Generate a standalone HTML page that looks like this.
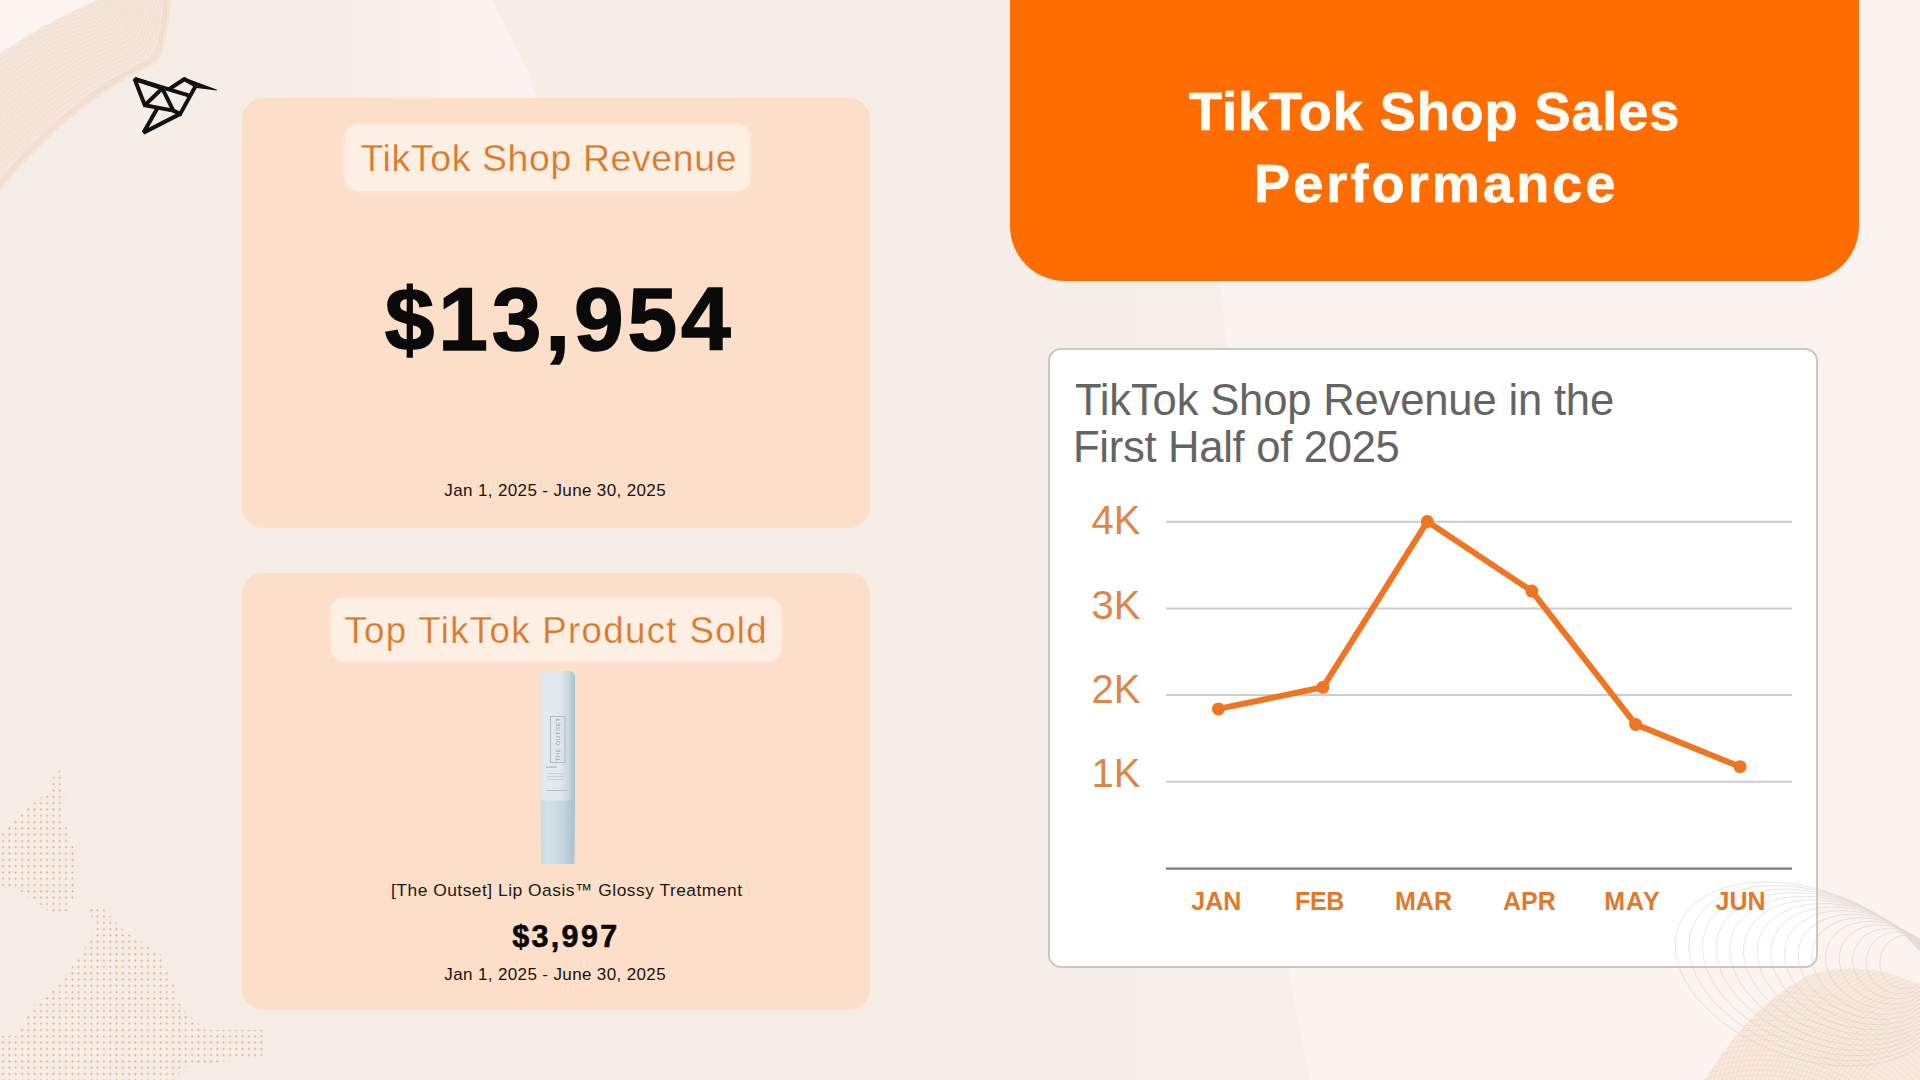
<!DOCTYPE html>
<html>
<head>
<meta charset="utf-8">
<style>
html,body{margin:0;padding:0;}
body{width:1920px;height:1080px;position:relative;overflow:hidden;background:#F6EDE6;font-family:"Liberation Sans",sans-serif;}
.a{position:absolute;line-height:1;white-space:nowrap;}
.card{position:absolute;left:242px;width:628px;background:#FDDEC9;border-radius:21px;}
.pill{position:absolute;background:#FEEFE4;border-radius:13px;box-shadow:0 0 3px 1px rgba(255,242,234,0.55);}
.ttl{color:#D97A2B;font-weight:400;-webkit-text-stroke:0.25px #FEEFE4;}
.date{font-size:17px;letter-spacing:0.37px;color:#1a120d;}
.yl{font-size:40px;color:#DD8649;}
.xl{font-size:25px;font-weight:700;color:#E07A2E;}
</style>
</head>
<body>
<!-- background decorations -->
<svg class="a" style="left:0;top:0" width="1920" height="1080" viewBox="0 0 1920 1080">
<defs>
  <linearGradient id="bgR" x1="0" x2="1" y1="0" y2="0">
    <stop offset="0" stop-color="#fff" stop-opacity="0"/>
    <stop offset="0.45" stop-color="#fff" stop-opacity="0.08"/>
    <stop offset="1" stop-color="#fff" stop-opacity="0.5"/>
  </linearGradient>
  <linearGradient id="patchG" gradientUnits="userSpaceOnUse" x1="330" y1="0" x2="480" y2="0">
    <stop offset="0" stop-color="#FAF3F0" stop-opacity="0"/>
    <stop offset="1" stop-color="#FAF3F0" stop-opacity="0.85"/>
  </linearGradient>
  <pattern id="dots" width="6.3" height="6.3" patternUnits="userSpaceOnUse">
    <circle cx="3.1" cy="3.1" r="1.0" fill="#E4A47C"/>
  </pattern>
  <clipPath id="dotclip">
    <path d="M58,760 L66,800 L62,815 L78,862 L78,888 L66,912 L50,912 L19,890 L0,885 L0,835 L19,814 L50,790 Z"/>
    <path d="M88,905 L100,905 L118,925 L130,935 L160,954 L172,980 L182,1008 L205,1030 L266,1030 L266,1055 L180,1068 L178,1080 L0,1080 L0,1036 L16,1036 L32,1008 L63,979 L82,954 L95,930 Z"/>
  </clipPath>
</defs>
<rect width="1920" height="1080" fill="url(#bgR)" opacity="0.25"/>
<path d="M1180,0 L1200,150 L1215,260 L1222,300 L1226,345 L1250,600 L1288,968 L1296,1010 L1302,1040 L1310,1080 L1920,1080 L1920,0 Z" fill="#FAF3EF"/>
<path d="M-5,-5 L110,-5 Q45,22 -5,58 Z" fill="#FBF4F1"/>
<path d="M320,0 L492,0 L505,25 L515,45 L528,70 L537,98 L320,98 Z" fill="url(#patchG)"/>
<path d="M-5.0,58.0 L-2.5,56.2 L0.0,54.4 L2.6,52.7 L5.1,50.9 L7.7,49.2 L10.2,47.4 L12.8,45.7 L15.4,44.0 L18.1,42.4 L20.7,40.7 L23.3,39.0 L26.0,37.4 L28.7,35.8 L31.3,34.1 L34.0,32.5 L36.8,31.0 L39.5,29.4 L42.2,27.8 L45.0,26.3 L47.8,24.8 L50.5,23.2 L53.3,21.7 L56.1,20.2 L59.0,18.8 L61.8,17.3 L64.6,15.8 L67.5,14.4 L70.4,13.0 L73.3,11.6 L76.2,10.2 L79.1,8.8 L82.0,7.4 L85.0,6.1 L87.9,4.7 L90.9,3.4 L93.9,2.1 L96.9,0.8 L99.9,-0.5 L103.0,-1.7 L106.0,-3.0 L168.0,-3.0 L167.5,2.0 L166.9,7.1 L166.3,12.2 L165.7,17.3 L165.1,22.3 L164.4,27.2 L163.6,31.9 L162.7,36.5 L161.8,40.8 L160.7,44.9 L159.6,48.7 L158.3,52.2 L156.9,55.3 L155.3,58.0 L153.6,60.2 L151.7,62.0 L149.2,63.3 L145.4,65.1 L141.6,67.0 L137.8,68.9 L134.0,70.9 L130.2,73.0 L126.3,75.1 L122.5,77.3 L118.7,79.5 L115.0,81.8 L111.2,84.2 L107.4,86.7 L103.6,89.2 L99.9,91.7 L96.1,94.4 L92.4,97.0 L88.7,99.8 L84.9,102.6 L81.2,105.4 L77.5,108.3 L73.9,111.3 L70.2,114.3 L66.6,117.3 L62.9,120.5 L59.3,123.6 L55.7,126.8 L52.2,130.1 L48.6,133.4 L45.1,136.7 L41.6,140.1 L38.1,143.6 L34.6,147.1 L31.2,150.6 L27.7,154.2 L24.3,157.8 L21.0,161.4 L17.6,165.1 L14.3,168.9 L11.0,172.6 L7.7,176.4 L4.5,180.3 L1.3,184.1 L-1.9,188.1 L-5.0,192.0 Z" fill="#F2D3BE" opacity="0.25"/>
<path d="M-5.0,192.0 L-1.9,188.1 L1.3,184.1 L4.5,180.3 L7.7,176.4 L11.0,172.6 L14.3,168.9 L17.6,165.1 L21.0,161.4 L24.3,157.8 L27.7,154.2 L31.2,150.6 L34.6,147.1 L38.1,143.6 L41.6,140.1 L45.1,136.7 L48.6,133.4 L52.2,130.1 L55.7,126.8 L59.3,123.6 L62.9,120.5 L66.6,117.3 L70.2,114.3 L73.9,111.3 L77.5,108.3 L81.2,105.4 L84.9,102.6 L88.7,99.8 L92.4,97.0 L96.1,94.4 L99.9,91.7 L103.6,89.2 L107.4,86.7 L111.2,84.2 L115.0,81.8 L118.7,79.5 L122.5,77.3 L126.3,75.1 L130.2,73.0 L134.0,70.9 L137.8,68.9 L141.6,67.0 L145.4,65.1 L149.2,63.3 L151.7,62.0 L153.6,60.2 L155.3,58.0 L156.9,55.3 L158.3,52.2 L159.6,48.7 L160.7,44.9 L161.8,40.8 L162.7,36.5 L163.6,31.9 L164.4,27.2 L165.1,22.3 L165.7,17.3 L166.3,12.2 L166.9,7.1 L167.5,2.0 L168.0,-3.0" fill="none" stroke="#F0C9AC" stroke-width="7" opacity="0.25"/>
<g stroke="#E8B08E" stroke-width="0.5" fill="none" opacity="0.32">
<path d="M-5.0,58.0 L-2.9,57.3 L-1.1,56.2 L0.3,54.7 L1.5,53.0 L2.8,51.5 L4.6,50.4 L6.7,49.6 L8.9,49.0 L10.8,48.0 L12.4,46.7 L13.6,45.1 L14.9,43.5 L16.6,42.4 L18.7,41.6 L21.0,41.0 L23.0,40.2 L24.7,38.9 L26.0,37.4 L27.3,35.8 L29.0,34.6 L31.0,33.8 L33.4,33.3 L35.5,32.6 L37.3,31.5 L38.7,30.0 L40.0,28.5 L41.6,27.2 L43.7,26.4 L46.0,25.9 L48.3,25.3 L50.2,24.3 L51.7,22.9 L53.0,21.4 L54.6,20.1 L56.6,19.3 L59.0,18.8 L61.3,18.2 L63.3,17.4 L64.9,16.1 L66.4,14.7 L67.9,13.4 L69.9,12.5 L72.2,11.9 L74.6,11.5 L76.8,10.8 L78.5,9.7 L80.0,8.2 L81.5,6.9 L83.4,6.0 L85.8,5.4 L88.2,5.0 L90.5,4.5 L92.4,3.4 L93.9,2.1 L95.5,0.8 L97.3,-0.2 L99.6,-0.8 L102.2,-1.1 L104.5,-1.6 L106.5,-2.5"/>
<path d="M-4.4,64.7 L-2.8,63.3 L-1.5,61.5 L-0.2,59.7 L1.4,58.3 L3.4,57.2 L5.7,56.4 L7.8,55.5 L9.6,54.3 L11.0,52.6 L12.3,50.9 L13.9,49.4 L15.9,48.3 L18.2,47.5 L20.4,46.8 L22.4,45.6 L23.9,44.1 L25.2,42.4 L26.8,40.9 L28.7,39.8 L31.0,39.0 L33.4,38.3 L35.4,37.4 L37.1,36.0 L38.5,34.3 L40.0,32.8 L41.9,31.7 L44.2,30.9 L46.6,30.3 L48.8,29.5 L50.5,28.2 L52.0,26.7 L53.5,25.1 L55.4,24.0 L57.7,23.3 L60.1,22.7 L62.4,22.0 L64.3,20.9 L65.9,19.4 L67.4,17.9 L69.2,16.7 L71.4,16.0 L74.0,15.5 L76.4,14.9 L78.3,14.0 L79.9,12.6 L81.3,11.1 L83.0,9.9 L85.1,9.0 L87.5,8.5 L89.9,7.9 L91.9,7.0 L93.5,5.6 L94.9,4.0 L96.5,2.7 L98.6,1.7 L100.9,1.1 L103.4,0.5 L105.5,-0.3 L107.2,-1.6 L108.7,-3.2"/>
<path d="M-4.7,70.5 L-3.4,68.5 L-1.9,66.7 L-0.1,65.3 L2.1,64.3 L4.5,63.4 L6.5,62.2 L8.2,60.6 L9.6,58.8 L11.0,57.0 L12.8,55.5 L15.1,54.5 L17.5,53.7 L19.7,52.7 L21.5,51.2 L22.9,49.4 L24.4,47.7 L26.2,46.2 L28.4,45.2 L30.8,44.4 L33.2,43.5 L35.1,42.2 L36.6,40.6 L38.1,38.8 L39.9,37.4 L42.1,36.4 L44.5,35.7 L47.0,34.9 L49.0,33.7 L50.7,32.2 L52.2,30.5 L53.9,29.1 L56.1,28.1 L58.6,27.4 L61.1,26.7 L63.3,25.8 L65.0,24.4 L66.6,22.8 L68.3,21.4 L70.4,20.3 L72.9,19.7 L75.5,19.1 L77.8,18.3 L79.7,17.1 L81.2,15.6 L82.7,14.2 L84.6,13.1 L86.8,12.4 L89.3,11.8 L91.5,11.0 L93.2,9.7 L94.7,8.0 L96.1,6.4 L97.8,5.0 L100.0,4.1 L102.4,3.3 L104.6,2.5 L106.5,1.2 L108.0,-0.4 L109.4,-2.2 L111.0,-3.6"/>
<path d="M-5.4,75.9 L-3.7,74.1 L-1.6,72.8 L0.8,71.7 L3.1,70.6 L5.0,69.1 L6.5,67.2 L8.0,65.2 L9.6,63.4 L11.7,62.1 L14.2,61.1 L16.6,60.0 L18.6,58.7 L20.3,56.9 L21.8,55.0 L23.4,53.2 L25.5,51.9 L28.0,50.9 L30.5,50.0 L32.7,48.8 L34.5,47.2 L36.0,45.4 L37.7,43.6 L39.7,42.3 L42.2,41.3 L44.7,40.5 L47.1,39.5 L49.0,38.1 L50.6,36.3 L52.3,34.6 L54.3,33.3 L56.7,32.4 L59.3,31.7 L61.8,30.8 L63.8,29.6 L65.6,28.0 L67.2,26.3 L69.2,25.0 L71.6,24.1 L74.2,23.5 L76.8,22.8 L79.0,21.7 L80.8,20.3 L82.5,18.7 L84.2,17.5 L86.3,16.6 L88.7,15.9 L91.0,15.2 L93.0,14.1 L94.6,12.6 L95.9,10.8 L97.4,9.1 L99.4,7.8 L101.6,6.9 L103.9,5.9 L105.9,4.7 L107.5,3.0 L108.8,1.1 L110.3,-0.7 L112.1,-2.1 L114.3,-3.2"/>
<path d="M-5.5,81.8 L-3.2,80.5 L-0.7,79.4 L1.4,77.9 L3.2,76.0 L4.7,73.9 L6.3,71.8 L8.2,70.2 L10.6,68.9 L13.1,67.8 L15.4,66.5 L17.3,64.8 L18.9,62.8 L20.5,60.8 L22.5,59.1 L24.8,57.8 L27.4,56.8 L29.9,55.7 L31.9,54.2 L33.6,52.3 L35.3,50.4 L37.2,48.7 L39.5,47.4 L42.1,46.5 L44.7,45.5 L46.9,44.2 L48.7,42.5 L50.4,40.6 L52.3,39.0 L54.6,37.8 L57.2,36.9 L59.9,36.1 L62.2,34.9 L64.2,33.4 L65.9,31.7 L67.7,30.1 L70.0,28.9 L72.6,28.1 L75.4,27.4 L77.9,26.5 L79.9,25.1 L81.7,23.5 L83.5,22.0 L85.7,20.8 L88.1,20.1 L90.5,19.6 L92.7,18.7 L94.5,17.4 L95.9,15.6 L97.3,13.8 L99.0,12.2 L101.1,11.0 L103.4,10.0 L105.5,8.8 L107.3,7.2 L108.6,5.2 L109.9,3.1 L111.4,1.2 L113.4,-0.2 L115.6,-1.3 L117.8,-2.5"/>
<path d="M-4.9,88.6 L-2.5,87.2 L-0.4,85.4 L1.2,83.2 L2.8,80.9 L4.5,78.9 L6.8,77.3 L9.3,76.0 L11.8,74.7 L14.0,73.1 L15.8,71.1 L17.4,68.9 L19.2,66.9 L21.4,65.3 L24.0,64.1 L26.6,62.9 L29.0,61.5 L30.9,59.7 L32.6,57.6 L34.4,55.6 L36.6,54.0 L39.2,52.9 L41.9,51.9 L44.4,50.6 L46.5,49.0 L48.2,47.0 L50.0,45.1 L52.2,43.6 L54.8,42.5 L57.5,41.6 L60.2,40.5 L62.4,39.1 L64.3,37.3 L66.1,35.5 L68.2,34.0 L70.7,33.0 L73.5,32.2 L76.3,31.3 L78.6,30.1 L80.6,28.5 L82.4,26.8 L84.5,25.4 L87.0,24.4 L89.8,23.7 L92.3,23.1 L94.4,22.1 L95.9,20.6 L97.3,18.8 L98.8,17.0 L100.7,15.6 L102.9,14.5 L105.1,13.4 L107.1,11.9 L108.6,9.9 L109.8,7.7 L111.1,5.5 L112.8,3.7 L114.8,2.2 L117.0,0.9 L119.0,-0.6 L120.5,-2.6"/>
<path d="M-4.4,95.1 L-2.5,93.0 L-0.9,90.6 L0.7,88.2 L2.8,86.3 L5.2,84.7 L7.9,83.3 L10.3,81.8 L12.4,79.9 L14.1,77.6 L15.8,75.3 L17.9,73.3 L20.3,71.8 L23.1,70.5 L25.7,69.2 L27.9,67.4 L29.7,65.3 L31.5,63.1 L33.5,61.2 L36.0,59.7 L38.7,58.5 L41.5,57.3 L43.8,55.8 L45.8,53.9 L47.6,51.8 L49.6,49.9 L52.1,48.5 L54.9,47.4 L57.7,46.4 L60.2,45.1 L62.3,43.3 L64.2,41.4 L66.2,39.6 L68.6,38.2 L71.4,37.3 L74.3,36.4 L76.9,35.3 L79.1,33.8 L81.1,32.1 L83.1,30.4 L85.4,29.0 L88.2,28.2 L91.1,27.5 L93.9,26.6 L95.8,25.5 L97.3,23.9 L98.7,22.1 L100.4,20.6 L102.5,19.3 L104.8,18.2 L106.9,16.9 L108.6,15.1 L109.9,12.9 L111.1,10.5 L112.5,8.3 L114.4,6.6 L116.5,5.1 L118.5,3.5 L120.2,1.6 L121.5,-0.8 L122.6,-3.3"/>
<path d="M-4.8,100.8 L-3.2,98.3 L-1.3,95.9 L1.0,94.0 L3.6,92.5 L6.3,90.9 L8.6,89.0 L10.5,86.7 L12.3,84.3 L14.2,82.0 L16.5,80.1 L19.2,78.6 L21.9,77.2 L24.4,75.5 L26.5,73.5 L28.3,71.1 L30.2,68.9 L32.5,67.1 L35.3,65.7 L38.1,64.4 L40.8,62.9 L43.0,61.1 L44.9,58.9 L46.9,56.8 L49.1,55.0 L51.9,53.6 L54.8,52.5 L57.6,51.3 L59.9,49.7 L62.0,47.7 L63.9,45.7 L66.2,44.0 L68.9,42.7 L71.9,41.7 L74.7,40.7 L77.3,39.3 L79.4,37.6 L81.4,35.7 L83.6,34.1 L86.3,32.9 L89.2,32.1 L92.2,31.3 L94.9,30.2 L97.1,28.7 L98.7,27.1 L100.2,25.5 L102.2,24.3 L104.4,23.2 L106.7,22.1 L108.7,20.6 L110.1,18.5 L111.3,16.1 L112.6,13.7 L114.2,11.6 L116.1,9.9 L118.2,8.2 L120.1,6.4 L121.5,4.0 L122.6,1.3 L123.7,-1.3 L125.1,-3.6"/>
<path d="M-5.5,106.2 L-3.4,104.0 L-0.8,102.1 L1.9,100.5 L4.5,98.6 L6.7,96.4 L8.5,93.8 L10.3,91.3 L12.5,89.0 L15.0,87.2 L17.9,85.7 L20.6,84.1 L22.9,82.0 L24.9,79.7 L26.8,77.2 L29.0,75.0 L31.5,73.3 L34.4,71.9 L37.3,70.4 L39.8,68.6 L41.9,66.5 L43.9,64.1 L46.0,62.0 L48.6,60.4 L51.5,59.0 L54.5,57.8 L57.2,56.3 L59.4,54.3 L61.5,52.2 L63.6,50.2 L66.2,48.6 L69.1,47.4 L72.2,46.3 L75.0,45.1 L77.3,43.4 L79.4,41.4 L81.6,39.5 L84.1,38.0 L87.0,37.0 L90.1,36.1 L93.0,35.1 L95.5,33.7 L97.7,32.0 L99.9,30.3 L101.8,29.0 L104.0,28.0 L106.4,27.1 L108.6,26.0 L110.3,24.3 L111.6,22.0 L112.8,19.6 L114.2,17.3 L116.0,15.3 L118.0,13.6 L120.0,11.7 L121.6,9.5 L122.8,6.8 L123.8,3.9 L125.0,1.2 L126.6,-1.1 L128.5,-3.0"/>
<path d="M-5.5,112.4 L-2.7,110.5 L0.0,108.7 L2.5,106.5 L4.5,103.9 L6.3,101.2 L8.3,98.6 L10.7,96.4 L13.5,94.7 L16.4,93.0 L19.0,91.0 L21.2,88.7 L23.2,86.1 L25.2,83.6 L27.6,81.5 L30.5,79.8 L33.5,78.3 L36.2,76.5 L38.6,74.4 L40.7,72.0 L42.7,69.6 L45.2,67.6 L48.0,66.0 L51.1,64.6 L54.0,63.2 L56.5,61.3 L58.7,59.1 L60.8,56.9 L63.2,54.9 L66.1,53.4 L69.2,52.3 L72.2,51.0 L74.9,49.4 L77.2,47.5 L79.3,45.4 L81.7,43.6 L84.5,42.2 L87.6,41.2 L90.8,40.2 L93.6,39.0 L96.0,37.3 L98.2,35.4 L100.5,33.8 L103.3,32.5 L105.8,31.8 L108.2,31.0 L110.3,29.8 L111.9,27.9 L113.1,25.6 L114.4,23.3 L116.0,21.1 L118.0,19.3 L120.0,17.5 L121.8,15.4 L123.2,12.8 L124.2,9.8 L125.2,6.8 L126.5,4.1 L128.2,1.8 L130.2,-0.2 L131.9,-2.4"/>
<path d="M-4.7,119.2 L-2.1,117.0 L0.2,114.5 L2.1,111.7 L4.0,108.8 L6.3,106.3 L8.9,104.2 L11.9,102.3 L14.7,100.4 L17.2,98.1 L19.3,95.5 L21.3,92.8 L23.6,90.3 L26.3,88.2 L29.3,86.6 L32.3,84.8 L34.9,82.8 L37.2,80.4 L39.3,77.8 L41.5,75.4 L44.2,73.5 L47.3,71.9 L50.4,70.4 L53.2,68.6 L55.6,66.5 L57.8,64.1 L60.1,61.8 L62.8,60.0 L65.9,58.6 L69.1,57.3 L72.0,55.8 L74.6,53.9 L76.8,51.7 L79.1,49.6 L81.8,47.9 L84.9,46.7 L88.1,45.6 L91.2,44.4 L93.9,42.8 L96.2,40.9 L98.5,39.0 L101.1,37.5 L104.1,36.3 L107.4,35.5 L110.0,34.8 L111.9,33.5 L113.4,31.6 L114.6,29.3 L116.1,27.2 L117.9,25.3 L120.0,23.5 L122.0,21.6 L123.6,19.3 L124.8,16.4 L125.7,13.2 L126.8,10.2 L128.3,7.6 L130.1,5.2 L131.9,2.9 L133.4,0.3 L134.5,-2.7"/>
<path d="M-4.4,125.6 L-2.3,122.7 L-0.4,119.7 L1.7,116.8 L4.2,114.3 L7.1,112.2 L10.1,110.3 L12.8,108.0 L15.1,105.4 L17.2,102.5 L19.3,99.7 L21.9,97.3 L24.8,95.3 L27.9,93.5 L30.8,91.6 L33.3,89.2 L35.5,86.5 L37.7,83.8 L40.3,81.5 L43.2,79.7 L46.4,78.0 L49.5,76.3 L52.2,74.2 L54.5,71.8 L56.8,69.3 L59.3,67.1 L62.3,65.3 L65.5,63.9 L68.7,62.4 L71.6,60.6 L74.0,58.5 L76.3,56.2 L78.8,54.1 L81.8,52.5 L85.1,51.3 L88.4,50.1 L91.3,48.6 L93.9,46.7 L96.3,44.7 L98.7,42.8 L101.6,41.4 L104.9,40.4 L108.3,39.4 L111.4,38.3 L113.3,36.9 L114.8,35.1 L116.2,33.1 L117.9,31.3 L120.0,29.6 L122.1,27.9 L123.9,25.9 L125.3,23.3 L126.3,20.2 L127.3,17.0 L128.6,14.0 L130.2,11.5 L132.0,9.0 L133.7,6.4 L135.0,3.4 L135.8,0.0 L136.6,-3.4"/>
<path d="M-4.9,131.2 L-2.9,128.0 L-0.6,125.1 L2.1,122.7 L5.1,120.6 L8.1,118.4 L10.7,115.8 L12.9,112.9 L15.0,109.8 L17.3,107.0 L20.1,104.7 L23.3,102.7 L26.4,100.7 L29.2,98.4 L31.5,95.7 L33.7,92.8 L36.1,90.2 L39.0,87.9 L42.1,86.1 L45.4,84.3 L48.4,82.3 L50.9,79.9 L53.2,77.2 L55.6,74.7 L58.5,72.6 L61.7,70.9 L65.0,69.4 L68.1,67.7 L70.9,65.5 L73.3,63.1 L75.7,60.8 L78.5,58.8 L81.7,57.3 L85.1,56.1 L88.4,54.6 L91.2,52.9 L93.7,50.7 L96.2,48.6 L98.9,46.8 L102.1,45.5 L105.5,44.5 L108.9,43.4 L111.9,42.0 L114.4,40.2 L116.1,38.5 L117.8,36.9 L119.8,35.4 L122.0,34.0 L124.1,32.3 L125.8,30.1 L127.0,27.3 L128.0,24.2 L129.1,21.1 L130.5,18.3 L132.3,15.7 L134.1,13.1 L135.5,10.2 L136.5,6.8 L137.2,3.1 L138.1,-0.4 L139.3,-3.5"/>
<path d="M-5.6,136.6 L-3.0,133.8 L-0.0,131.4 L3.1,129.2 L5.9,126.6 L8.3,123.7 L10.5,120.5 L12.7,117.4 L15.3,114.7 L18.4,112.4 L21.6,110.3 L24.6,108.1 L27.2,105.4 L29.5,102.4 L31.9,99.5 L34.5,96.9 L37.6,94.7 L40.9,92.8 L44.1,90.8 L46.9,88.4 L49.4,85.7 L51.8,82.9 L54.4,80.5 L57.5,78.5 L60.9,76.8 L64.3,75.0 L67.3,73.0 L69.9,70.6 L72.3,68.0 L75.0,65.7 L78.1,63.9 L81.5,62.4 L85.0,61.0 L88.1,59.3 L90.8,57.2 L93.3,54.9 L96.0,52.8 L99.0,51.1 L102.5,49.9 L106.0,48.8 L109.2,47.4 L112.1,45.7 L114.6,43.7 L117.3,41.9 L119.4,40.6 L121.7,39.5 L124.0,38.3 L126.0,36.7 L127.6,34.4 L128.7,31.5 L129.7,28.4 L131.0,25.5 L132.6,22.8 L134.5,20.3 L136.1,17.5 L137.3,14.2 L138.1,10.5 L138.8,6.7 L139.7,3.1 L141.1,-0.1 L142.7,-2.9"/>
<path d="M-5.4,142.9 L-2.3,140.5 L0.8,137.9 L3.4,135.1 L5.7,131.8 L7.9,128.5 L10.4,125.4 L13.3,122.7 L16.5,120.4 L19.7,118.1 L22.6,115.5 L25.1,112.5 L27.4,109.4 L29.9,106.4 L32.8,103.9 L36.1,101.7 L39.5,99.7 L42.6,97.4 L45.3,94.7 L47.7,91.7 L50.3,88.9 L53.2,86.5 L56.6,84.6 L60.0,82.8 L63.3,80.8 L66.2,78.4 L68.7,75.7 L71.3,73.1 L74.2,70.9 L77.6,69.1 L81.1,67.6 L84.6,66.0 L87.6,63.9 L90.2,61.6 L92.8,59.2 L95.7,57.2 L99.1,55.6 L102.7,54.4 L106.2,53.1 L109.3,51.4 L112.1,49.4 L114.7,47.4 L117.5,45.6 L120.8,44.3 L123.5,43.5 L125.9,42.5 L127.8,40.8 L129.2,38.5 L130.3,35.7 L131.5,32.8 L133.1,30.1 L134.9,27.6 L136.7,25.0 L138.1,22.0 L139.1,18.4 L139.8,14.5 L140.5,10.6 L141.6,7.0 L143.1,3.9 L144.7,0.8 L146.0,-2.4"/>
<path d="M-4.6,149.7 L-1.7,146.9 L0.8,143.7 L3.0,140.2 L5.3,136.7 L8.0,133.7 L11.1,131.1 L14.5,128.7 L17.6,126.1 L20.3,123.2 L22.7,119.9 L25.2,116.6 L27.9,113.7 L31.1,111.2 L34.5,109.0 L37.9,106.7 L40.8,104.1 L43.4,101.1 L45.9,98.0 L48.7,95.2 L51.9,92.9 L55.4,90.9 L58.9,88.9 L62.1,86.6 L64.8,83.9 L67.4,81.1 L70.2,78.5 L73.4,76.4 L77.0,74.7 L80.6,73.0 L83.9,71.0 L86.8,68.7 L89.4,66.1 L92.2,63.8 L95.4,61.9 L99.0,60.4 L102.7,59.0 L106.1,57.5 L109.1,55.5 L111.8,53.3 L114.6,51.2 L117.8,49.5 L121.3,48.3 L125.0,47.3 L127.6,46.4 L129.4,44.8 L130.8,42.5 L132.0,39.9 L133.4,37.4 L135.2,35.0 L137.1,32.6 L138.9,29.9 L140.1,26.6 L140.9,22.8 L141.6,18.8 L142.5,15.0 L143.7,11.5 L145.3,8.3 L146.7,4.9 L147.8,1.3 L148.5,-2.8"/>
<path d="M-4.4,156.0 L-2.1,152.4 L0.2,148.8 L2.7,145.4 L5.7,142.4 L9.0,139.8 L12.3,137.2 L15.3,134.3 L17.9,130.9 L20.3,127.5 L22.9,124.2 L25.9,121.3 L29.3,118.9 L32.8,116.5 L36.0,113.9 L38.8,110.9 L41.4,107.7 L44.0,104.6 L47.1,101.9 L50.5,99.6 L54.1,97.5 L57.6,95.2 L60.5,92.6 L63.2,89.6 L66.0,86.7 L69.0,84.2 L72.5,82.2 L76.2,80.4 L79.8,78.5 L82.9,76.2 L85.7,73.6 L88.5,70.9 L91.5,68.6 L95.0,66.8 L98.8,65.3 L102.5,63.8 L105.8,61.9 L108.7,59.6 L111.5,57.3 L114.5,55.3 L117.9,53.7 L121.7,52.5 L125.4,51.4 L128.8,49.9 L130.8,48.4 L132.2,46.3 L133.7,44.1 L135.4,42.0 L137.4,39.9 L139.4,37.6 L141.0,34.8 L142.0,31.4 L142.8,27.5 L143.5,23.5 L144.6,19.8 L146.0,16.3 L147.6,13.0 L148.8,9.3 L149.6,5.3 L150.1,0.9 L150.6,-3.5"/>
<path d="M-5.1,161.5 L-2.7,157.7 L0.1,154.4 L3.3,151.4 L6.6,148.7 L9.9,145.8 L12.7,142.5 L15.2,138.9 L17.7,135.4 L20.5,132.1 L23.8,129.3 L27.4,126.8 L30.8,124.2 L33.9,121.2 L36.6,117.9 L39.2,114.6 L42.1,111.5 L45.4,108.9 L49.0,106.6 L52.7,104.3 L55.9,101.7 L58.8,98.7 L61.5,95.6 L64.4,92.7 L67.8,90.3 L71.5,88.2 L75.2,86.2 L78.7,84.0 L81.7,81.4 L84.5,78.6 L87.5,76.0 L90.8,73.8 L94.5,72.0 L98.4,70.4 L102.0,68.6 L105.1,66.4 L108.0,63.9 L111.0,61.6 L114.3,59.6 L118.0,58.1 L121.9,56.9 L125.6,55.5 L128.8,53.8 L131.8,51.7 L133.6,50.0 L135.4,48.2 L137.4,46.6 L139.6,44.8 L141.5,42.6 L142.9,39.7 L143.9,36.1 L144.7,32.3 L145.6,28.5 L146.9,24.9 L148.4,21.5 L149.9,18.0 L150.9,14.0 L151.5,9.6 L151.9,4.9 L152.4,0.5 L153.4,-3.5"/>
<path d="M-5.6,167.0 L-2.6,163.7 L0.8,160.8 L4.2,157.9 L7.2,154.6 L9.9,151.0 L12.4,147.2 L15.1,143.6 L18.2,140.4 L21.7,137.6 L25.3,135.0 L28.6,132.0 L31.5,128.7 L34.2,125.2 L36.9,121.7 L40.1,118.7 L43.7,116.1 L47.4,113.7 L50.9,111.2 L54.0,108.2 L56.9,104.9 L59.7,101.8 L62.9,98.9 L66.5,96.6 L70.3,94.5 L74.0,92.3 L77.4,89.7 L80.3,86.8 L83.2,83.9 L86.4,81.3 L90.0,79.2 L93.9,77.4 L97.7,75.6 L101.2,73.4 L104.3,70.9 L107.2,68.4 L110.4,66.0 L114.0,64.2 L117.9,62.8 L121.8,61.4 L125.4,59.7 L128.6,57.6 L131.6,55.4 L134.7,53.5 L137.1,52.2 L139.4,51.0 L141.7,49.5 L143.5,47.4 L144.8,44.4 L145.7,40.9 L146.6,37.3 L147.8,33.7 L149.3,30.4 L150.9,27.0 L152.2,23.2 L153.0,18.9 L153.4,14.2 L153.8,9.4 L154.5,5.0 L155.6,1.0 L156.9,-2.8"/>
<path d="M-5.3,173.5 L-1.8,170.4 L1.5,167.2 L4.4,163.6 L7.0,159.7 L9.5,155.8 L12.5,152.2 L15.8,149.1 L19.4,146.2 L23.0,143.3 L26.1,140.0 L28.9,136.4 L31.6,132.7 L34.6,129.3 L38.1,126.3 L41.8,123.7 L45.5,121.1 L48.9,118.2 L51.9,114.9 L54.8,111.5 L57.8,108.3 L61.3,105.5 L65.1,103.2 L69.0,100.9 L72.6,98.4 L75.8,95.5 L78.7,92.4 L81.8,89.4 L85.2,86.9 L89.1,84.9 L93.1,82.9 L96.9,80.8 L100.2,78.4 L103.2,75.7 L106.3,73.0 L109.8,70.8 L113.6,69.0 L117.7,67.5 L121.5,65.9 L125.0,63.9 L128.1,61.6 L131.2,59.3 L134.6,57.4 L138.4,56.0 L141.3,55.2 L143.6,53.9 L145.3,51.9 L146.5,49.0 L147.5,45.7 L148.7,42.4 L150.1,39.1 L151.8,36.0 L153.3,32.5 L154.4,28.5 L155.0,24.0 L155.4,19.1 L155.9,14.4 L156.8,10.0 L158.0,5.9 L159.2,1.9 L160.1,-2.4"/>
<path d="M-4.5,180.3 L-1.4,176.7 L1.3,172.8 L3.9,168.6 L6.6,164.7 L9.8,161.1 L13.4,158.0 L17.0,155.0 L20.4,151.8 L23.4,148.1 L26.2,144.3 L29.1,140.5 L32.3,137.1 L36.0,134.2 L39.8,131.5 L43.4,128.6 L46.7,125.3 L49.6,121.8 L52.6,118.2 L55.9,115.1 L59.6,112.4 L63.6,110.0 L67.4,107.5 L70.9,104.6 L73.9,101.4 L77.0,98.2 L80.3,95.3 L84.0,92.8 L88.1,90.8 L92.1,88.6 L95.7,86.2 L98.9,83.4 L102.0,80.6 L105.3,78.0 L109.1,75.8 L113.1,74.1 L117.2,72.4 L121.0,70.5 L124.3,68.2 L127.5,65.7 L130.7,63.4 L134.4,61.6 L138.5,60.3 L142.6,59.1 L145.2,57.9 L146.9,56.1 L148.2,53.4 L149.4,50.5 L150.8,47.6 L152.5,44.7 L154.2,41.7 L155.7,38.1 L156.6,34.0 L157.1,29.3 L157.5,24.4 L158.2,19.8 L159.3,15.4 L160.5,11.3 L161.6,6.9 L162.2,2.2 L162.5,-2.9"/>
<path d="M-4.5,186.4 L-1.9,182.2 L0.8,177.9 L3.7,174.0 L7.1,170.5 L10.8,167.3 L14.4,164.0 L17.7,160.4 L20.6,156.5 L23.4,152.4 L26.4,148.7 L29.9,145.4 L33.8,142.4 L37.6,139.5 L41.1,136.3 L44.2,132.6 L47.2,128.9 L50.3,125.3 L53.9,122.3 L57.8,119.6 L61.8,117.0 L65.6,114.2 L68.9,110.9 L72.0,107.5 L75.2,104.3 L78.7,101.4 L82.7,99.1 L86.9,96.8 L90.8,94.4 L94.3,91.7 L97.5,88.6 L100.7,85.7 L104.3,83.2 L108.3,81.1 L112.5,79.3 L116.5,77.4 L120.2,75.1 L123.4,72.5 L126.7,70.0 L130.2,67.8 L134.2,66.1 L138.4,64.7 L142.5,63.3 L146.3,61.6 L148.3,59.8 L149.7,57.6 L151.2,55.2 L152.9,52.7 L154.9,50.2 L156.6,47.3 L157.9,43.7 L158.7,39.5 L159.2,34.8 L159.8,30.0 L160.7,25.5 L161.9,21.3 L163.1,16.9 L163.9,12.2 L164.3,7.1 L164.4,1.7 L164.6,-3.5"/>
<path d="M-5.2,191.8 L-2.4,187.5 L0.8,183.6 L4.4,180.2 L8.1,176.8 L11.6,173.2 L14.7,169.3 L17.5,165.0 L20.5,160.9 L23.8,157.2 L27.5,154.0 L31.4,150.9 L35.2,147.7 L38.5,144.1 L41.6,140.2 L44.6,136.3 L48.0,132.8 L51.8,129.8 L55.9,127.0 L59.9,124.2 L63.5,121.0 L66.7,117.5 L69.8,113.9 L73.3,110.7 L77.1,107.9 L81.3,105.5 L85.4,103.1 L89.2,100.3 L92.6,97.3 L95.8,94.1 L99.3,91.1 L103.2,88.7 L107.4,86.7 L111.6,84.7 L115.6,82.4 L119.1,79.8 L122.4,77.1 L125.8,74.5 L129.6,72.4 L133.8,70.8 L138.2,69.3 L142.2,67.6 L145.8,65.5 L149.1,63.3 L151.1,61.5 L153.0,59.6 L155.1,57.8 L157.2,55.6 L158.9,52.8 L160.0,49.2 L160.8,44.9 L161.3,40.4 L162.1,35.9 L163.3,31.6 L164.6,27.4 L165.6,22.8 L166.3,17.8 L166.5,12.3 L166.5,6.7 L166.9,1.4 L167.6,-3.4"/>
</g>
<g clip-path="url(#dotclip)"><rect x="0" y="740" width="300" height="340" fill="url(#dots)"/></g>
</svg>

<!-- bird logo -->
<svg class="a" style="left:0;top:0" width="300" height="200" viewBox="0 0 300 200">
  <g fill="none" stroke="#111" stroke-width="4.0" stroke-linejoin="miter" stroke-miterlimit="2.2" stroke-linecap="butt">
    <path d="M134.6 79 L144.8 105.3 L173.3 110.6 L162.3 88.4 Z"/>
    <path d="M144.8 105.3 L162.3 88.4"/>
    <path d="M134.6 79 L189.4 95.6"/>
    <path d="M168.3 89.6 L184.3 79.2 L195.8 85.6 L180.2 113.9 L173.3 110.6"/>
    <path d="M157.2 108.6 L143.6 132.6 L180.2 113.9"/>
  </g>
  <path d="M183.6 77.2 L217.2 89.8 L216.8 90.6 L194.5 87.8 Z" fill="#111"/>
</svg>
<!-- left cards -->
<div class="card" style="top:98px;height:430px;"></div>
<div class="pill" style="left:345px;top:125px;width:405px;height:66px;"></div>
<div class="a ttl" style="left:360.5px;top:140.4px;font-size:37.4px;letter-spacing:0.64px;">TikTok Shop Revenue</div>
<div class="a" style="left:384.8px;top:274.7px;font-size:89.3px;font-weight:700;letter-spacing:3.85px;color:#0a0a0a;-webkit-text-stroke:1.5px #0a0a0a;">$13,954</div>
<div class="a date" style="left:444.3px;top:481.8px;">Jan 1, 2025 - June 30, 2025</div>

<div class="card" style="top:573px;height:437px;"></div>
<div class="pill" style="left:331px;top:598px;width:450px;height:63px;"></div>
<div class="a ttl" style="left:344.4px;top:612.6px;font-size:36.6px;letter-spacing:1.36px;">Top TikTok Product Sold</div>

<!-- product tube -->
<svg class="a" style="left:530px;top:665px" width="56" height="215" viewBox="530 665 56 215">
  <defs>
    <linearGradient id="tubeTop" x1="0" x2="1" y1="0" y2="0">
      <stop offset="0" stop-color="#DCE2E8"/>
      <stop offset="0.15" stop-color="#E5E9F0"/>
      <stop offset="0.55" stop-color="#E2E8EE"/>
      <stop offset="0.8" stop-color="#C9D9DF"/>
      <stop offset="1" stop-color="#ABBFC8"/>
    </linearGradient>
    <linearGradient id="tubeBot" x1="0" x2="1" y1="0" y2="0">
      <stop offset="0" stop-color="#C9DAE0"/>
      <stop offset="0.2" stop-color="#D3E2E8"/>
      <stop offset="0.65" stop-color="#C4D8E0"/>
      <stop offset="1" stop-color="#A9C2CD"/>
    </linearGradient>
  </defs>
  <path d="M540.5 801 L540.5 677 Q540.5 671 546.5 671 L569 671 Q575 671 575 677 L575 801 Z" fill="url(#tubeTop)"/>
  <path d="M540.5 800.5 L575 800.5 L574.5 864 L541 864 Z" fill="url(#tubeBot)"/>
  <rect x="550.5" y="716.5" width="14.5" height="46" fill="none" stroke="#A3B0B8" stroke-width="0.8"/>
  <text x="0" y="0" transform="translate(560 739.5) rotate(-90)" font-family="Liberation Sans" font-size="6.2" fill="#95A2AA" text-anchor="middle" letter-spacing="0.5">THE OUTSET</text>
  <rect x="546" y="766.5" width="11" height="1.3" fill="#B3BEC5"/>
  <rect x="547" y="773" width="16" height="0.9" fill="#C6CFD5"/>
  <rect x="547" y="776" width="17" height="0.9" fill="#C6CFD5"/>
  <rect x="547" y="779" width="16" height="0.9" fill="#C6CFD5"/>
  <rect x="546" y="790" width="22" height="1" fill="#B3BEC5"/>
</svg>

<div class="a" style="left:391px;top:882px;font-size:17.4px;letter-spacing:0.5px;color:#1c1714;">[The Outset] Lip Oasis™ Glossy Treatment</div>
<div class="a" style="left:512.2px;top:921.4px;font-size:30.5px;font-weight:700;letter-spacing:2.34px;color:#0a0a0a;-webkit-text-stroke:0.6px #0a0a0a;">$3,997</div>
<div class="a date" style="left:444.3px;top:966px;">Jan 1, 2025 - June 30, 2025</div>

<!-- header -->
<div class="a" style="left:1010px;top:-60px;width:849px;height:341px;background:#FF6C00;border-radius:55px;"></div>
<div class="a" style="left:1189px;top:84.4px;font-size:54px;font-weight:700;letter-spacing:0.95px;color:#FFFDF8;-webkit-text-stroke:0.7px #FFFDF8;">TikTok Shop Sales</div>
<div class="a" style="left:1254px;top:156.2px;font-size:54px;font-weight:700;letter-spacing:3.13px;color:#FFFDF8;-webkit-text-stroke:0.7px #FFFDF8;">Performance</div>

<!-- chart card -->
<div class="a" style="left:1048px;top:348px;width:770px;height:620px;background:#fff;border:2px solid #CBC7C5;border-radius:13px;box-sizing:border-box;"></div>
<div class="a" style="left:1075px;top:378.5px;font-size:43.6px;letter-spacing:-0.18px;color:#646464;">TikTok Shop Revenue in the</div>
<div class="a" style="left:1073px;top:425.5px;font-size:43.6px;letter-spacing:-0.3px;color:#646464;">First Half of 2025</div>

<div class="a yl" style="left:1091.5px;top:500px;">4K</div>
<div class="a yl" style="left:1091.5px;top:584.7px;">3K</div>
<div class="a yl" style="left:1091.5px;top:668.9px;">2K</div>
<div class="a yl" style="left:1091.5px;top:752.6px;">1K</div>

<svg class="a" style="left:0;top:0" width="1920" height="1080" viewBox="0 0 1920 1080">
  <g stroke="#CDCDCD" stroke-width="2">
    <line x1="1166" y1="521.7" x2="1792" y2="521.7"/>
    <line x1="1166" y1="608.4" x2="1792" y2="608.4"/>
    <line x1="1166" y1="695" x2="1792" y2="695"/>
    <line x1="1166" y1="781.8" x2="1792" y2="781.8"/>
  </g>
  <line x1="1166" y1="868.6" x2="1792" y2="868.6" stroke="#7A7A7A" stroke-width="2.3"/>
  <g fill="#F07522">
    <polyline points="1218.4,708.9 1322.9,687.3 1427.3,521.6 1531.8,591.1 1635.6,724.4 1740,766.7" fill="none" stroke="#F07522" stroke-width="6" stroke-linejoin="round"/>
    <circle cx="1218.4" cy="708.9" r="6.5"/>
    <circle cx="1322.9" cy="687.3" r="6.5"/>
    <circle cx="1427.3" cy="521.6" r="6.5"/>
    <circle cx="1531.8" cy="591.1" r="6.5"/>
    <circle cx="1635.6" cy="724.4" r="6.5"/>
    <circle cx="1740" cy="766.7" r="6.5"/>
  </g>
</svg>

<svg class="a" style="left:0;top:0" width="1920" height="1080" viewBox="0 0 1920 1080">
<defs>
  <clipPath id="chclip"><path d="M1705,1080 C1730,1040 1760,1000 1810,975 C1850,962 1890,970 1920,985 L1920,1080 Z"/></clipPath>
</defs>
<path d="M1705,1080 C1730,1040 1760,1000 1810,975 C1850,962 1890,970 1920,985 L1920,1080 Z" fill="#F3D8C4" opacity="0.35"/>
<g stroke="#E9BFA4" stroke-width="0.5" fill="none" opacity="0.5" clip-path="url(#chclip)">
<circle cx="1960" cy="1150" r="120"/>
<circle cx="1960" cy="1150" r="124"/>
<circle cx="1960" cy="1150" r="128"/>
<circle cx="1960" cy="1150" r="132"/>
<circle cx="1960" cy="1150" r="136"/>
<circle cx="1960" cy="1150" r="140"/>
<circle cx="1960" cy="1150" r="144"/>
<circle cx="1960" cy="1150" r="148"/>
<circle cx="1960" cy="1150" r="152"/>
<circle cx="1960" cy="1150" r="156"/>
<circle cx="1960" cy="1150" r="160"/>
<circle cx="1960" cy="1150" r="164"/>
<circle cx="1960" cy="1150" r="168"/>
<circle cx="1960" cy="1150" r="172"/>
<circle cx="1960" cy="1150" r="176"/>
<circle cx="1960" cy="1150" r="180"/>
<circle cx="1960" cy="1150" r="184"/>
<circle cx="1960" cy="1150" r="188"/>
<circle cx="1960" cy="1150" r="192"/>
<circle cx="1960" cy="1150" r="196"/>
<circle cx="1960" cy="1150" r="200"/>
<circle cx="1960" cy="1150" r="204"/>
<circle cx="1960" cy="1150" r="208"/>
<circle cx="1960" cy="1150" r="212"/>
<circle cx="1960" cy="1150" r="216"/>
<circle cx="1960" cy="1150" r="220"/>
<circle cx="1960" cy="1150" r="224"/>
<circle cx="1960" cy="1150" r="228"/>
<circle cx="1960" cy="1150" r="232"/>
<circle cx="1960" cy="1150" r="236"/>
<circle cx="1960" cy="1150" r="240"/>
<circle cx="1960" cy="1150" r="244"/>
<circle cx="1960" cy="1150" r="248"/>
<circle cx="1960" cy="1150" r="252"/>
<circle cx="1960" cy="1150" r="256"/>
<circle cx="1960" cy="1150" r="260"/>
<circle cx="1960" cy="1150" r="264"/>
<circle cx="1960" cy="1150" r="268"/>
<circle cx="1960" cy="1150" r="272"/>
<circle cx="1960" cy="1150" r="276"/>
<circle cx="1760" cy="1230" r="100"/>
<circle cx="1760" cy="1230" r="105"/>
<circle cx="1760" cy="1230" r="110"/>
<circle cx="1760" cy="1230" r="115"/>
<circle cx="1760" cy="1230" r="120"/>
<circle cx="1760" cy="1230" r="125"/>
<circle cx="1760" cy="1230" r="130"/>
<circle cx="1760" cy="1230" r="135"/>
<circle cx="1760" cy="1230" r="140"/>
<circle cx="1760" cy="1230" r="145"/>
<circle cx="1760" cy="1230" r="150"/>
<circle cx="1760" cy="1230" r="155"/>
<circle cx="1760" cy="1230" r="160"/>
<circle cx="1760" cy="1230" r="165"/>
<circle cx="1760" cy="1230" r="170"/>
<circle cx="1760" cy="1230" r="175"/>
<circle cx="1760" cy="1230" r="180"/>
<circle cx="1760" cy="1230" r="185"/>
<circle cx="1760" cy="1230" r="190"/>
<circle cx="1760" cy="1230" r="195"/>
<circle cx="1760" cy="1230" r="200"/>
<circle cx="1760" cy="1230" r="205"/>
<circle cx="1760" cy="1230" r="210"/>
<circle cx="1760" cy="1230" r="215"/>
<circle cx="1760" cy="1230" r="220"/>
<circle cx="1760" cy="1230" r="225"/>
<circle cx="1760" cy="1230" r="230"/>
<circle cx="1760" cy="1230" r="235"/>
<circle cx="1760" cy="1230" r="240"/>
<circle cx="1760" cy="1230" r="245"/>
</g>
<g stroke="#D5C9C3" stroke-width="0.7" fill="none" opacity="0.6" transform="translate(0 12)">
<ellipse cx="1808.0" cy="962.0" rx="138.0" ry="84.0" transform="rotate(20 1808.0 962.0)"/>
<ellipse cx="1814.5" cy="961.2" rx="130.5" ry="80.2" transform="rotate(20 1814.5 961.2)"/>
<ellipse cx="1821.0" cy="960.4" rx="123.0" ry="76.4" transform="rotate(20 1821.0 960.4)"/>
<ellipse cx="1827.5" cy="959.6" rx="115.5" ry="72.6" transform="rotate(20 1827.5 959.6)"/>
<ellipse cx="1834.0" cy="958.8" rx="108.0" ry="68.8" transform="rotate(20 1834.0 958.8)"/>
<ellipse cx="1840.5" cy="958.0" rx="100.5" ry="65.0" transform="rotate(20 1840.5 958.0)"/>
<ellipse cx="1847.0" cy="957.2" rx="93.0" ry="61.2" transform="rotate(20 1847.0 957.2)"/>
<ellipse cx="1853.5" cy="956.4" rx="85.5" ry="57.4" transform="rotate(20 1853.5 956.4)"/>
<ellipse cx="1860.0" cy="955.6" rx="78.0" ry="53.6" transform="rotate(20 1860.0 955.6)"/>
<ellipse cx="1866.5" cy="954.8" rx="70.5" ry="49.8" transform="rotate(20 1866.5 954.8)"/>
<ellipse cx="1873.0" cy="954.0" rx="63.0" ry="46.0" transform="rotate(20 1873.0 954.0)"/>
<ellipse cx="1879.5" cy="953.2" rx="55.5" ry="42.2" transform="rotate(20 1879.5 953.2)"/>
<ellipse cx="1886.0" cy="952.4" rx="48.0" ry="38.4" transform="rotate(20 1886.0 952.4)"/>
<ellipse cx="1892.5" cy="951.6" rx="40.5" ry="34.6" transform="rotate(20 1892.5 951.6)"/>
<ellipse cx="1899.0" cy="950.8" rx="33.0" ry="30.8" transform="rotate(20 1899.0 950.8)"/>
<ellipse cx="1905.5" cy="950.0" rx="25.5" ry="27.0" transform="rotate(20 1905.5 950.0)"/>
</g>
</svg>
<div class="a xl" style="left:1191.3px;top:889px;">JAN</div>
<div class="a xl" style="left:1295px;top:889px;letter-spacing:-0.3px;">FEB</div>
<div class="a xl" style="left:1395px;top:889px;">MAR</div>
<div class="a xl" style="left:1503px;top:889px;">APR</div>
<div class="a xl" style="left:1604.3px;top:889px;letter-spacing:1px;">MAY</div>
<div class="a xl" style="left:1715.5px;top:889px;">JUN</div>

</body>
</html>
